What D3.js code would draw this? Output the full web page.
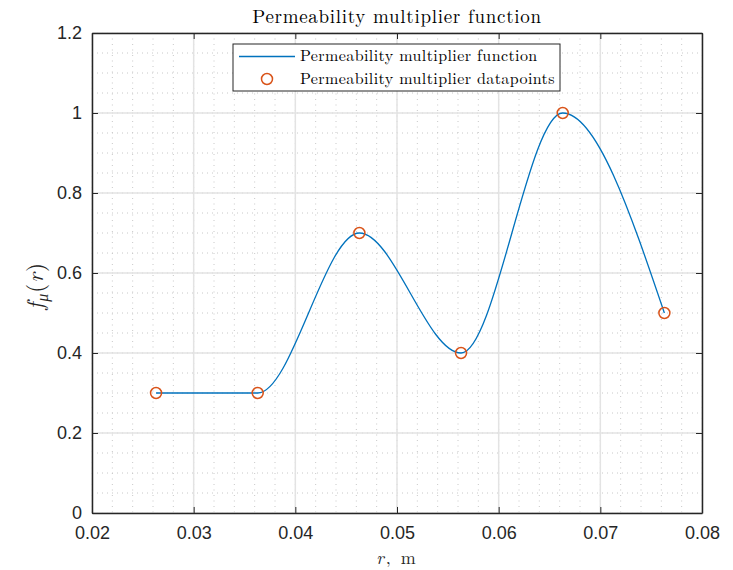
<!DOCTYPE html>
<html>
<head>
<meta charset="utf-8">
<script src="https://cdn.jsdelivr.net/npm/d3@7"></script>
<style>
  body { margin: 0; background: #fff; }
  svg { display: block; }
</style>
</head>
<body>
<div id="chart"></div>
<script>
// data points (r in m, multiplier)
let radius = [0.0263, 0.0363, 0.0463, 0.0563, 0.0663, 0.0763]
let multiplier = [0.3, 0.3, 0.7, 0.4, 1.0, 0.5]
let xTicks = [0.02, 0.03, 0.04, 0.05, 0.06, 0.07, 0.08]
let yTicks = [0, 0.2, 0.4, 0.6, 0.8, 1, 1.2]

let data = radius.map((r, i) => ({r: r, f: multiplier[i]}))

let margin = {top: 33, right: 31, bottom: 57, left: 92},
    width = 733 - margin.left - margin.right,
    height = 570 - margin.top - margin.bottom;

let svg = d3.select("#chart")
    .append("svg")
    .attr("width", 733)
    .attr("height", 570)
    .append("g")
    .attr("transform", "translate(" + margin.left + "," + margin.top + ")");

let x = d3.scaleLinear().domain([0.02, 0.08]).range([0, width])
let y = d3.scaleLinear().domain([0, 1.2]).range([height, 0])

// minor grid (dotted)
let xMinor = d3.range(0, 31).map(i => 0.02 + i * 0.002)
let yMinor = d3.range(0, 25).map(i => i * 0.05)
svg.append("g").selectAll("line").data(xMinor).join("line")
    .attr("x1", d => x(d)).attr("x2", d => x(d))
    .attr("y1", 0).attr("y2", height)
    .attr("stroke", "#c8c8c8").attr("stroke-width", 1)
    .attr("stroke-dasharray", "1,4.5")
svg.append("g").selectAll("line").data(yMinor).join("line")
    .attr("y1", d => y(d)).attr("y2", d => y(d))
    .attr("x1", 0).attr("x2", width)
    .attr("stroke", "#c8c8c8").attr("stroke-width", 1)
    .attr("stroke-dasharray", "1,4")

// major grid
svg.append("g").selectAll("line").data(xTicks).join("line")
    .attr("x1", d => x(d)).attr("x2", d => x(d))
    .attr("y1", 0).attr("y2", height)
    .attr("stroke", "#e3e3e3").attr("stroke-width", 1.5)
svg.append("g").selectAll("line").data(yTicks).join("line")
    .attr("y1", d => y(d)).attr("y2", d => y(d))
    .attr("x1", 0).attr("x2", width)
    .attr("stroke", "#e3e3e3").attr("stroke-width", 1.5)

// axes: inward ticks on all four sides
let fmt = d => d3.format("")(+d.toFixed(2))
let xAxis = svg.append("g")
    .attr("transform", "translate(0," + height + ")")
    .call(d3.axisBottom(x).tickValues(xTicks).tickFormat(fmt).tickSizeInner(-6).tickSizeOuter(0).tickPadding(13))
let xTop = svg.append("g")
    .call(d3.axisTop(x).tickValues(xTicks).tickFormat("").tickSizeInner(-6).tickSizeOuter(0))
let yAxis = svg.append("g")
    .call(d3.axisLeft(y).tickValues(yTicks).tickFormat(fmt).tickSizeInner(-6).tickSizeOuter(0).tickPadding(10))
let yRight = svg.append("g")
    .attr("transform", "translate(" + width + ",0)")
    .call(d3.axisRight(y).tickValues(yTicks).tickFormat("").tickSizeInner(-6).tickSizeOuter(0))

svg.selectAll(".domain").attr("stroke", "#262626").attr("stroke-width", 1.5)
svg.selectAll(".tick line").attr("stroke", "#262626").attr("stroke-width", 1)
svg.selectAll(".tick text")
    .attr("font-family", "'Liberation Sans', Arial, sans-serif")
    .attr("font-size", 18)
    .attr("fill", "#262626")

// curve through the datapoints
let line = d3.line()
    .x(d => x(d.r))
    .y(d => y(d.f))
    .curve(d3.curveMonotoneX)

svg.append("path")
    .datum(data)
    .attr("fill", "none")
    .attr("stroke", "#0072BD")
    .attr("stroke-width", 1.3)
    .attr("d", line)

svg.append("g").selectAll("circle").data(data).join("circle")
    .attr("cx", d => x(d.r))
    .attr("cy", d => y(d.f))
    .attr("r", 5.5)
    .attr("fill", "none")
    .attr("stroke", "#D95319")
    .attr("stroke-width", 1.5)

// title and labels
let serif = "'Latin Modern Roman', 'CMU Serif', 'Liberation Serif', 'DejaVu Serif', serif"
svg.append("text")
    .attr("x", width / 2).attr("y", -10.5)
    .attr("text-anchor", "middle")
    .attr("font-family", serif)
    .attr("font-size", 19)
    .attr("letter-spacing", 0.7)
    .attr("fill", "#000")
    .text("Permeability multiplier function")

let xl = svg.append("text")
    .attr("x", width / 2).attr("y", height + 51)
    .attr("text-anchor", "middle")
    .attr("font-family", serif)
    .attr("font-size", 18)
    .attr("letter-spacing", 2)
    .attr("fill", "#262626")
xl.append("tspan").attr("font-style", "italic").text("r")
xl.append("tspan").text(", m")

let yl = svg.append("text")
    .attr("transform", "translate(-49," + (height / 2 + 13) + ") rotate(-90)")
    .attr("text-anchor", "middle")
    .attr("font-family", serif)
    .attr("font-size", 23)
    .attr("letter-spacing", 1)
    .attr("fill", "#262626")
yl.append("tspan").attr("font-style", "italic").text("f")
yl.append("tspan").attr("font-style", "italic").attr("font-size", 16).attr("dy", 5).text("μ")
yl.append("tspan").attr("dy", -5).text("(")
yl.append("tspan").attr("font-style", "italic").text("r")
yl.append("tspan").text(")")

// legend
let legend = svg.append("g").attr("transform", "translate(" + (233 - margin.left) + "," + (44 - margin.top) + ")")
legend.append("rect")
    .attr("width", 327).attr("height", 47)
    .attr("fill", "#fff").attr("stroke", "#262626").attr("stroke-width", 1)
legend.append("line")
    .attr("x1", 6).attr("x2", 62).attr("y1", 12.5).attr("y2", 12.5)
    .attr("stroke", "#0072BD").attr("stroke-width", 1.3)
legend.append("circle")
    .attr("cx", 34).attr("cy", 35).attr("r", 5.5)
    .attr("fill", "none").attr("stroke", "#D95319").attr("stroke-width", 1.5)
let legendLabels = ["Permeability multiplier function", "Permeability multiplier datapoints"]
legend.selectAll("text.lab").data(legendLabels).join("text")
    .attr("class", "lab")
    .attr("x", 67)
    .attr("y", (d, i) => 17 + i * 22.5)
    .attr("font-family", serif)
    .attr("font-size", 16)
    .attr("letter-spacing", 0.4)
    .attr("fill", "#000")
    .text(d => d)
</script>
</body>
</html>
